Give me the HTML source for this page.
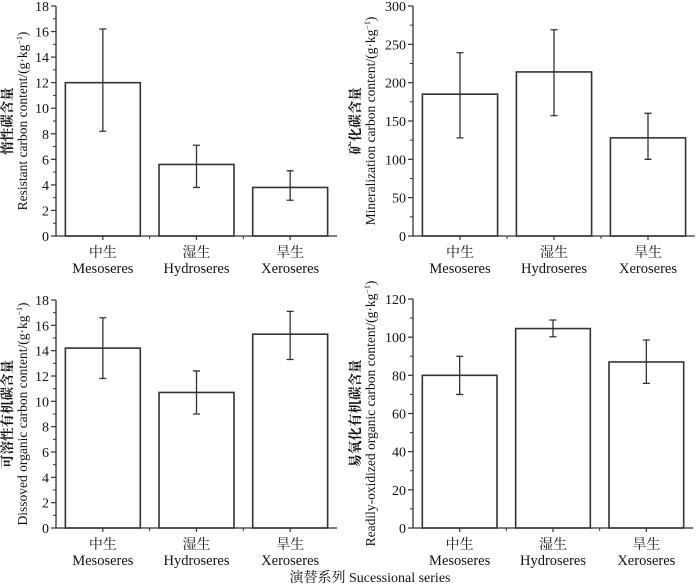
<!DOCTYPE html>
<html><head><meta charset="utf-8">
<style>
body{margin:0;background:#fff;}
svg{display:block;}
svg text, svg tspan{font-family:"Liberation Serif","Noto Serif CJK SC",serif;fill:#111;}
</style></head>
<body>
<svg id="chart" width="700" height="588" viewBox="0 0 700 588"></svg>
<script>
const categoriesCn = ["中生","湿生","旱生"];
const categoriesEn = ["Mesoseres","Hydroseres","Xeroseres"];
const resistantMean = [12.0, 5.6, 3.8];
const resistantLow = [8.2, 3.8, 2.8];
const resistantHigh = [16.2, 7.1, 5.1];
const mineralMean = [185, 214, 128];
const mineralLow = [128, 157, 100];
const mineralHigh = [239, 269, 160];
const dissolvedMean = [14.2, 10.7, 15.3];
const dissolvedLow = [11.8, 9.0, 13.3];
const dissolvedHigh = [16.6, 12.4, 17.1];
const readilyMean = [80, 104.5, 87];
const readilyLow = [70, 100.2, 75.8];
const readilyHigh = [90, 109, 98.5];
const ticksA = [0,2,4,6,8,10,12,14,16,18];
const ticksB = [0,50,100,150,200,250,300];
const ticksC = [0,20,40,60,80,100,120];

const NS="http://www.w3.org/2000/svg";
const svg=document.getElementById('chart');
function mk(tag,attrs,parent){const e=document.createElementNS(NS,tag);for(const k in attrs)e.setAttribute(k,attrs[k]);(parent||svg).appendChild(e);return e;}

function panel(p){
  const g=mk('g',{});
  
  
  const ymax=p.ticks[p.ticks.length-1];
  const y=v=>p.y0-(v/ymax)*(p.y0-p.yTop);
  const bandW=(p.xEnd-p.x0)/3;
  const xc=i=>p.x0+bandW*(i+0.5);
  const bw=bandW*0.8;
  p.mean.forEach((v,i)=>{
    const r=mk('rect',{x:xc(i)-bw/2,y:y(v),width:bw,height:p.y0-y(v),fill:'#fff',stroke:'#333','stroke-width':1.6},g);
    
    
    const eb=mk('path',{d:`M${xc(i)},${y(p.low[i])}V${y(p.high[i])}M${xc(i)-3.5},${y(p.low[i])}h7M${xc(i)-3.5},${y(p.high[i])}h7`,stroke:'#333','stroke-width':1.3,fill:'none'},g);
    
    
  });
  const ax=mk('path',{d:`M${p.x0},${p.yTop}V${p.y0}H${p.xEnd}`,stroke:'#333','stroke-width':1.3,fill:'none'},g);
  
  
  p.ticks.forEach((t,k)=>{
    mk('line',{x1:p.x0-5,x2:p.x0,y1:y(t),y2:y(t),stroke:'#333','stroke-width':1.2},g);
    if(k<p.ticks.length-1){const m=(t+p.ticks[k+1])/2;mk('line',{x1:p.x0-3,x2:p.x0,y1:y(m),y2:y(m),stroke:'#333','stroke-width':1},g);}
    const tl=mk('text',{x:p.x0-7,y:y(t)+5,'text-anchor':'end','font-size':14},g);
    tl.textContent=t;
    
    
  });
  categoriesEn.forEach((c,i)=>{
    mk('line',{x1:xc(i),x2:xc(i),y1:p.y0,y2:p.y0+4,stroke:'#333','stroke-width':1.2},g);
    if(i<2) mk('line',{x1:p.x0+bandW*(i+1),x2:p.x0+bandW*(i+1),y1:p.y0,y2:p.y0+3,stroke:'#333','stroke-width':1},g);
    const t1=mk('text',{x:xc(i),y:p.y0+21,'text-anchor':'middle','font-size':14},g);
    t1.textContent=categoriesCn[i];
    
    
    const t2=mk('text',{x:xc(i),y:p.y0+37,'text-anchor':'middle','font-size':14.5},g);
    t2.textContent=c;
    
    
  });
  const cy=(p.y0+p.yTop)/2;
  const yt=mk('text',{transform:`translate(${p.tx},${cy}) rotate(-90)`,'text-anchor':'middle','font-size':13.5},g);
  
  
  const s1=mk('tspan',{x:0,y:0,'font-weight':'bold'},yt);s1.textContent=p.titleCn;
  const s2=mk('tspan',{x:0,y:15},yt);s2.innerHTML=p.titleEn;
}
panel({name:'panel-resistant',x0:56,xEnd:337,y0:236,yTop:6,ticks:ticksA,mean:resistantMean,low:resistantLow,high:resistantHigh,tx:12,titleCn:'惰性碳含量',titleEn:'Resistant carbon content/(g·kg<tspan font-size="8" dy="-5">−1</tspan><tspan dy="5">)</tspan>'});
panel({name:'panel-mineralization',x0:413,xEnd:695,y0:236,yTop:6,ticks:ticksB,mean:mineralMean,low:mineralLow,high:mineralHigh,tx:360,titleCn:'矿化碳含量',titleEn:'Mineralization  carbon content/(g·kg<tspan font-size="8" dy="-5">−1</tspan><tspan dy="5">)</tspan>'});
panel({name:'panel-dissolved',x0:56,xEnd:337,y0:528,yTop:300,ticks:ticksA,mean:dissolvedMean,low:dissolvedLow,high:dissolvedHigh,tx:12,titleCn:'可溶性有机碳含量',titleEn:'Dissoved organic carbon content/(g·kg<tspan font-size="8" dy="-5">−1</tspan><tspan dy="5">)</tspan>'});
panel({name:'panel-readily-oxidized',x0:413,xEnd:693,y0:528,yTop:299,ticks:ticksC,mean:readilyMean,low:readilyLow,high:readilyHigh,tx:360,titleCn:'易氧化有机碳含量',titleEn:'Readily-oxidized organic  carbon content/(g·kg<tspan font-size="8" dy="-5">−1</tspan><tspan dy="5">)</tspan>'});
const xt=mk('text',{x:370,y:582,'text-anchor':'middle','font-size':14});
xt.textContent='演替系列 Sucessional series';


</script>
</body></html>
